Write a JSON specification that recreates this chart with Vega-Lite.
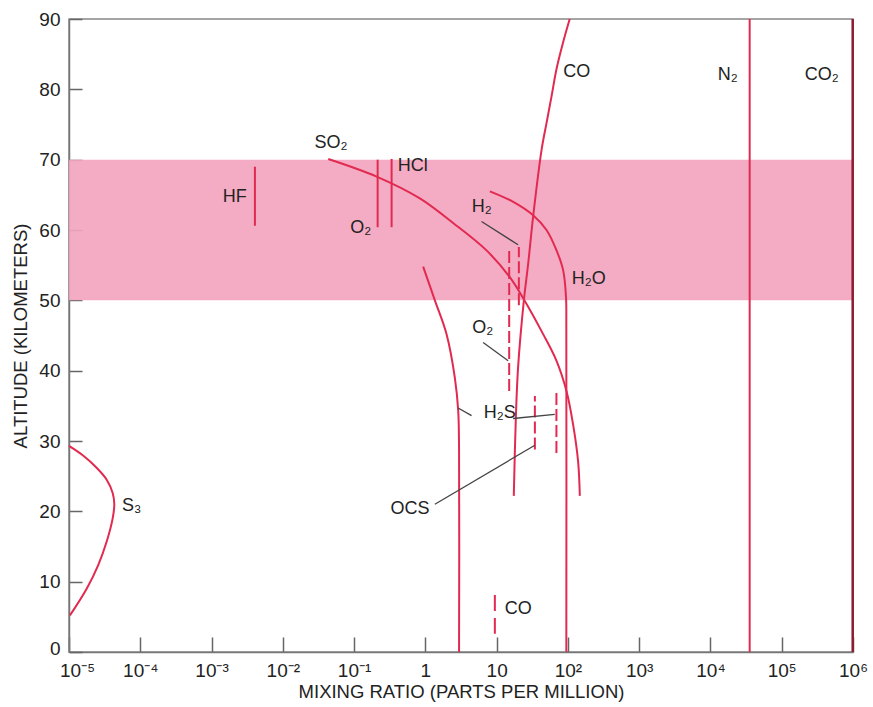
{
  "$schema": "https://vega.github.io/schema/vega-lite/v6.json",
  "width": 784,
  "height": 633,
  "autosize": "none",
  "padding": {"left": 69, "top": 19, "right": 20, "bottom": 55},
  "background": "white",
  "config": {
    "view": {"stroke": "#888", "strokeWidth": 1.5},
    "axis": {"grid": false, "domainColor": "#777", "domainWidth": 1.5, "tickColor": "#666", "tickWidth": 1.5,
      "labelFont": "Liberation Sans", "titleFont": "Liberation Sans", "labelFontSize": 19, "titleFontSize": 18.5,
      "titleFontWeight": "normal", "labelColor": "#222", "titleColor": "#222"},
    "text": {"font": "Liberation Sans", "fontSize": 18, "color": "#222"}
  },
  "datasets": {
    "band": [{"x1": 0.00001, "x2": 1000000, "y1": 50, "y2": 70}],
    "curves": [
      {"s": "S3", "o": 1, "x": 0.00001, "y": 29.3},
      {"s": "S3", "o": 2, "x": 0.0000159, "y": 27.9},
      {"s": "S3", "o": 3, "x": 0.0000244, "y": 26.2},
      {"s": "S3", "o": 4, "x": 0.0000338, "y": 24.5},
      {"s": "S3", "o": 5, "x": 0.0000410, "y": 22.6},
      {"s": "S3", "o": 6, "x": 0.0000432, "y": 21},
      {"s": "S3", "o": 7, "x": 0.0000410, "y": 19},
      {"s": "S3", "o": 8, "x": 0.0000338, "y": 15.7},
      {"s": "S3", "o": 9, "x": 0.0000258, "y": 12.4},
      {"s": "S3", "o": 10, "x": 0.0000177, "y": 9.0},
      {"s": "S3", "o": 11, "x": 0.0000103, "y": 5.2},
      {"s": "SO2", "o": 1, "x": 0.0434, "y": 70.1},
      {"s": "SO2", "o": 2, "x": 0.207, "y": 67.6},
      {"s": "SO2", "o": 3, "x": 0.837, "y": 64.5},
      {"s": "SO2", "o": 4, "x": 2.45, "y": 61},
      {"s": "SO2", "o": 5, "x": 7.21, "y": 57.1},
      {"s": "SO2", "o": 6, "x": 15.3, "y": 53.3},
      {"s": "SO2", "o": 7, "x": 23.6, "y": 50.3},
      {"s": "SO2", "o": 8, "x": 44.9, "y": 45.2},
      {"s": "SO2", "o": 9, "x": 69.2, "y": 41.4},
      {"s": "SO2", "o": 10, "x": 95.5, "y": 37.1},
      {"s": "SO2", "o": 11, "x": 118, "y": 32.4},
      {"s": "SO2", "o": 12, "x": 139, "y": 27.1},
      {"s": "SO2", "o": 13, "x": 147, "y": 22.2},
      {"s": "CO", "o": 1, "x": 106, "y": 90},
      {"s": "CO", "o": 2, "x": 85.7, "y": 86.7},
      {"s": "CO", "o": 3, "x": 69.2, "y": 82.9},
      {"s": "CO", "o": 4, "x": 58.9, "y": 79.0},
      {"s": "CO", "o": 5, "x": 50.1, "y": 75.2},
      {"s": "CO", "o": 6, "x": 42.7, "y": 71.4},
      {"s": "CO", "o": 7, "x": 32.5, "y": 61.9},
      {"s": "CO", "o": 8, "x": 27.7, "y": 55.2},
      {"s": "CO", "o": 9, "x": 24.1, "y": 50},
      {"s": "CO", "o": 10, "x": 20.0, "y": 40.5},
      {"s": "CO", "o": 11, "x": 18.6, "y": 33.3},
      {"s": "CO", "o": 12, "x": 17.4, "y": 22.2},
      {"s": "H2O", "o": 1, "x": 8.04, "y": 65.5},
      {"s": "H2O", "o": 2, "x": 17.1, "y": 64.0},
      {"s": "H2O", "o": 3, "x": 32.5, "y": 62.1},
      {"s": "H2O", "o": 4, "x": 50.1, "y": 60},
      {"s": "H2O", "o": 5, "x": 69.2, "y": 57.1},
      {"s": "H2O", "o": 6, "x": 85.7, "y": 54.3},
      {"s": "H2O", "o": 7, "x": 94, "y": 50.5},
      {"s": "H2O", "o": 8, "x": 95, "y": 46},
      {"s": "H2O", "o": 9, "x": 95, "y": 0},
      {"s": "H2S", "o": 1, "x": 0.931, "y": 54.8},
      {"s": "H2S", "o": 2, "x": 1.36, "y": 50},
      {"s": "H2S", "o": 3, "x": 1.98, "y": 45.2},
      {"s": "H2S", "o": 4, "x": 2.59, "y": 39},
      {"s": "H2S", "o": 5, "x": 2.89, "y": 34.3},
      {"s": "H2S", "o": 6, "x": 2.97, "y": 28.6},
      {"s": "H2S", "o": 7, "x": 2.97, "y": 0}
    ],
    "solidV": [
      {"s": "HF", "x": 0.00406, "y1": 60.6, "y2": 69.0},
      {"s": "O2", "x": 0.214, "y1": 60.4, "y2": 70},
      {"s": "HCl", "x": 0.336, "y1": 60.4, "y2": 70.1},
      {"s": "N2", "x": 35500, "y1": 0, "y2": 90}
    ],
    "co2": [{"s": "CO2", "x": 990000, "y1": 0, "y2": 90}],
    "dashedV": [
      {"s": "H2", "x": 20.5, "y1": 49.3, "y2": 57.6},
      {"s": "O2", "x": 15.0, "y1": 37.1, "y2": 57.6},
      {"s": "OCS", "x": 34.4, "y1": 28.8, "y2": 36.4},
      {"s": "H2S", "x": 69, "y1": 28.3, "y2": 36.9}
    ],
    "dashedCO": [
      {"s": "CO", "x": 9.44, "y1": 2.6, "y2": 8.1}
    ],
    "leaders": [
      {"s": "H2", "x": 6.14, "y": 61.2, "x2": 20.0, "y2": 57.9},
      {"s": "O2", "x": 6.47, "y": 44.0, "x2": 14.5, "y2": 41.4},
      {"s": "H2S a", "x": 2.88, "y": 34.7, "x2": 4.45, "y2": 33.6},
      {"s": "H2S b", "x": 17.0, "y": 33.2, "x2": 65.5, "y2": 33.8},
      {"s": "OCS", "x": 1.36, "y": 21.0, "x2": 34.4, "y2": 29.4}
    ],
    "labelsC": [
      {"t": "SO₂", "x": 0.0473, "y": 72.3},
      {"t": "O₂", "x": 0.124, "y": 60.3},
      {"t": "H₂", "x": 6.19, "y": 63.3},
      {"t": "H₂O", "x": 196, "y": 53.1},
      {"t": "O₂", "x": 6.40, "y": 46.1},
      {"t": "H₂S", "x": 11.1, "y": 34},
      {"t": "OCS", "x": 0.607, "y": 20.4},
      {"t": "CO", "x": 133, "y": 82.4},
      {"t": "N₂", "x": 17500, "y": 82.1},
      {"t": "CO₂", "x": 364000, "y": 82.1}
    ],
    "labelsL": [
      {"t": "S₃", "x": 0.0000555, "y": 20.7},
      {"t": "HCl", "x": 0.411, "y": 69.1},
      {"t": "CO", "x": 13.0, "y": 6.1}
    ],
    "labelsR": [
      {"t": "HF", "x": 0.00313, "y": 64.7}
    ]
  },
  "layer": [
    {
      "data": {"name": "band"},
      "mark": {"type": "rect", "color": "#f3a5bf", "opacity": 0.92},
      "encoding": {
        "x": {"field": "x1", "type": "quantitative", "scale": {"type": "log", "domain": [0.00001, 1000000]},
          "axis": {"title": "MIXING RATIO (PARTS PER MILLION)", "values": [0.00001, 0.0001, 0.001, 0.01, 0.1, 1, 10, 100, 1000, 10000, 100000, 1000000],
            "labelExpr": "['10⁻⁵','10⁻⁴','10⁻³','10⁻²','10⁻¹','1','10','10²','10³','10⁴','10⁵','10⁶'][round(log(datum.value)/LN10)+5]",
            "labelOffset": {"condition": {"test": "datum.value < 0.00002", "value": 8}, "value": 0},
            "tickSize": -15, "labelPadding": 24, "titlePadding": 2, "labelFlush": false, "labelOverlap": false}},
        "x2": {"field": "x2"},
        "y": {"field": "y1", "type": "quantitative", "scale": {"domain": [0, 90]},
          "axis": {"title": "ALTITUDE (KILOMETERS)", "values": [0, 10, 20, 30, 40, 50, 60, 70, 80, 90],
            "labelOffset": {"condition": {"test": "datum.value == 0", "value": -4}, "value": 0},
            "tickSize": -13, "labelPadding": 22, "titlePadding": 8, "labelFlush": false}},
        "y2": {"field": "y2"}
      }
    },
    {
      "data": {"name": "curves"},
      "mark": {"type": "line", "color": "#e22a50", "strokeWidth": 2, "interpolate": "catmull-rom"},
      "encoding": {
        "x": {"field": "x", "type": "quantitative"},
        "y": {"field": "y", "type": "quantitative"},
        "detail": {"field": "s"},
        "order": {"field": "o", "type": "quantitative"}
      }
    },
    {
      "data": {"name": "solidV"},
      "mark": {"type": "rule", "color": "#e22a50", "strokeWidth": 2},
      "encoding": {
        "x": {"field": "x", "type": "quantitative"},
        "y": {"field": "y1", "type": "quantitative"},
        "y2": {"field": "y2"}
      }
    },
    {
      "data": {"name": "co2"},
      "mark": {"type": "rule", "color": "#8e1b30", "strokeWidth": 2.5},
      "encoding": {
        "x": {"field": "x", "type": "quantitative"},
        "y": {"field": "y1", "type": "quantitative"},
        "y2": {"field": "y2"}
      }
    },
    {
      "data": {"name": "dashedV"},
      "mark": {"type": "rule", "color": "#e22a50", "strokeWidth": 2, "strokeDash": [12, 4]},
      "encoding": {
        "x": {"field": "x", "type": "quantitative"},
        "y": {"field": "y1", "type": "quantitative"},
        "y2": {"field": "y2"}
      }
    },
    {
      "data": {"name": "dashedCO"},
      "mark": {"type": "rule", "color": "#e22a50", "strokeWidth": 2, "strokeDash": [16, 7]},
      "encoding": {
        "x": {"field": "x", "type": "quantitative"},
        "y": {"field": "y2", "type": "quantitative"},
        "y2": {"field": "y1"}
      }
    },
    {
      "data": {"name": "leaders"},
      "mark": {"type": "rule", "color": "#444", "strokeWidth": 1.3},
      "encoding": {
        "x": {"field": "x", "type": "quantitative"},
        "y": {"field": "y", "type": "quantitative"},
        "x2": {"field": "x2"},
        "y2": {"field": "y2"}
      }
    },
    {
      "data": {"name": "labelsC"},
      "mark": {"type": "text", "align": "center", "baseline": "middle"},
      "encoding": {
        "x": {"field": "x", "type": "quantitative"},
        "y": {"field": "y", "type": "quantitative"},
        "text": {"field": "t"}
      }
    },
    {
      "data": {"name": "labelsL"},
      "mark": {"type": "text", "align": "left", "baseline": "middle"},
      "encoding": {
        "x": {"field": "x", "type": "quantitative"},
        "y": {"field": "y", "type": "quantitative"},
        "text": {"field": "t"}
      }
    },
    {
      "data": {"name": "labelsR"},
      "mark": {"type": "text", "align": "right", "baseline": "middle"},
      "encoding": {
        "x": {"field": "x", "type": "quantitative"},
        "y": {"field": "y", "type": "quantitative"},
        "text": {"field": "t"}
      }
    }
  ]
}
